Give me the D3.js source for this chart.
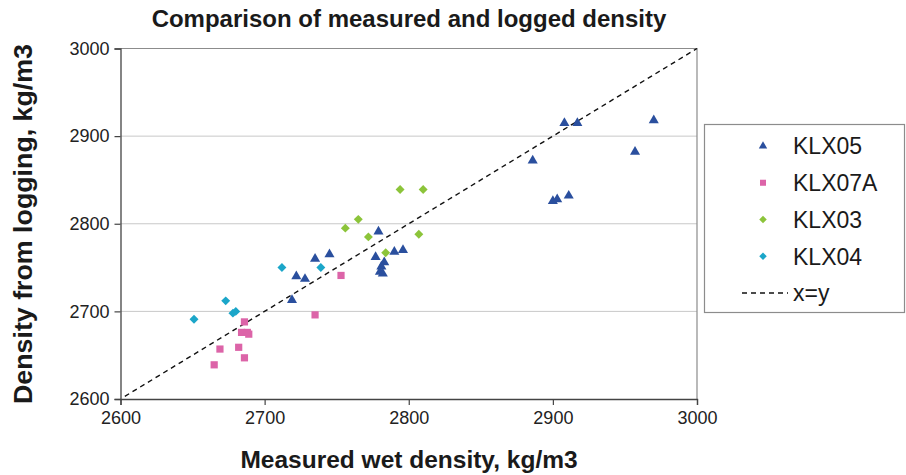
<!DOCTYPE html>
<html>
<head>
<meta charset="utf-8">
<script src="https://cdn.jsdelivr.net/npm/d3@7"></script>
<style>
  body { margin: 0; background: #fff; }
  svg { display: block; font-family: "Liberation Sans", Arial, sans-serif; }
</style>
</head>
<body>
<svg id="chart" width="906" height="475"></svg>
<script>
// measured wet density (x) vs density from logging (y), kg/m3
const klx05X = [2719, 2722, 2728, 2735, 2745, 2779, 2777, 2783, 2781, 2780, 2782, 2790, 2796, 2886, 2900, 2903, 2911, 2908, 2917, 2957, 2970];
const klx05Y = [2713, 2740, 2737, 2760, 2765, 2791, 2762, 2756, 2751, 2745, 2743, 2768, 2770, 2872, 2826, 2828, 2832, 2915, 2915, 2882, 2918];
const klx07aX = [2753, 2735, 2686, 2684, 2688, 2689, 2669, 2682, 2686, 2665];
const klx07aY = [2741, 2696, 2688, 2676, 2676, 2674, 2657, 2659, 2647, 2639];
const klx03X = [2794, 2810, 2765, 2756, 2772, 2807, 2784];
const klx03Y = [2839, 2839, 2805, 2795, 2785, 2788, 2767];
const klx04X = [2651, 2673, 2678, 2680, 2712, 2739];
const klx04Y = [2691, 2712, 2698, 2700, 2750, 2750];

const xTicks = [2600, 2700, 2800, 2900, 3000];
const yTicks = [2600, 2700, 2800, 2900, 3000];
const seriesNames = ["KLX05", "KLX07A", "KLX03", "KLX04"];

const svg = d3.select("#chart");
const plot = {left: 120.5, right: 697, top: 48.5, bottom: 399};

const x = d3.scaleLinear().domain([2600, 3000]).range([plot.left, plot.right]);
const y = d3.scaleLinear().domain([2600, 3000]).range([plot.bottom, plot.top]);

// diamonds are squares turned 45 degrees
const series = [
    {name: seriesNames[0], xs: klx05X, ys: klx05Y, color: "#2a4f9e", shape: d3.symbolTriangle, size: 44, rot: 0},
    {name: seriesNames[1], xs: klx07aX, ys: klx07aY, color: "#dc64a8", shape: d3.symbolSquare, size: 52, rot: 0},
    {name: seriesNames[2], xs: klx03X, ys: klx03Y, color: "#8cc43a", shape: d3.symbolSquare, size: 40, rot: 45},
    {name: seriesNames[3], xs: klx04X, ys: klx04Y, color: "#1ba6c9", shape: d3.symbolSquare, size: 40, rot: 45}
];

// gridlines
svg.append("g")
    .selectAll("line")
    .data(yTicks.slice(1, -1))
    .join("line")
    .attr("x1", plot.left).attr("x2", plot.right)
    .attr("y1", d => y(d)).attr("y2", d => y(d))
    .attr("stroke", "#c8c8c8").attr("stroke-width", 1);

// plot frame (top/right)
svg.append("path")
    .attr("d", `M${plot.left},${plot.top}H${plot.right}V${plot.bottom}`)
    .attr("fill", "none").attr("stroke", "#8c8c8c").attr("stroke-width", 1.2);

// axes
const xAxis = svg.append("g")
    .attr("transform", `translate(0,${plot.bottom})`)
    .call(d3.axisBottom(x).tickValues(xTicks).tickFormat(d3.format("d")).tickSizeOuter(0).tickSize(6).tickPadding(6));
const yAxis = svg.append("g")
    .attr("transform", `translate(${plot.left},0)`)
    .call(d3.axisLeft(y).tickValues(yTicks).tickFormat(d3.format("d")).tickSizeOuter(0).tickSize(6).tickPadding(5));

[xAxis, yAxis].forEach(a => {
    a.select(".domain").attr("stroke", "#444").attr("stroke-width", 1.3);
    a.selectAll(".tick line").attr("stroke", "#444").attr("stroke-width", 1.2);
    a.selectAll(".tick text")
        .attr("fill", "#222")
        .attr("font-size", 18)
        .attr("font-family", "'Liberation Sans', Arial, sans-serif");
});

// x=y line
svg.append("line")
    .attr("x1", x(2603)).attr("y1", y(2603))
    .attr("x2", x(3000)).attr("y2", y(3000))
    .attr("stroke", "#111").attr("stroke-width", 1.4)
    .attr("stroke-dasharray", "5,4");

// points
series.forEach(s => {
    svg.append("g")
        .selectAll("path")
        .data(s.xs.map((v, i) => [v, s.ys[i]]))
        .join("path")
        .attr("transform", d => `translate(${x(d[0])},${y(d[1])}) rotate(${s.rot})`)
        .attr("d", d3.symbol().type(s.shape).size(s.size))
        .attr("fill", s.color);
});

// title and axis labels
svg.append("text")
    .attr("x", 409).attr("y", 27)
    .attr("text-anchor", "middle")
    .attr("font-size", 24).attr("font-weight", "bold").attr("fill", "#1a1a1a")
    .text("Comparison of measured and logged density");

svg.append("text")
    .attr("x", 409).attr("y", 468)
    .attr("text-anchor", "middle")
    .attr("font-size", 24.5).attr("font-weight", "bold").attr("fill", "#1a1a1a")
    .text("Measured wet density, kg/m3");

svg.append("text")
    .attr("transform", "translate(32,224) rotate(-90)")
    .attr("text-anchor", "middle")
    .attr("font-size", 25).attr("font-weight", "bold").attr("fill", "#1a1a1a")
    .attr("textLength", 360).attr("lengthAdjust", "spacingAndGlyphs")
    .text("Density from logging, kg/m3");

// legend
const legend = svg.append("g");
legend.append("rect")
    .attr("x", 704.5).attr("y", 124.5).attr("width", 200).attr("height", 188)
    .attr("fill", "#fff").attr("stroke", "#8c8c8c").attr("stroke-width", 1.2);

const rowY = d3.scalePoint().domain([...seriesNames, "x=y"]).range([146, 293]);

series.forEach(s => {
    legend.append("path")
        .attr("transform", `translate(763,${rowY(s.name)}) rotate(${s.rot})`)
        .attr("d", d3.symbol().type(s.shape).size(s.size * 0.7))
        .attr("fill", s.color);
    legend.append("text")
        .attr("x", 793).attr("y", rowY(s.name)).attr("dy", "0.36em")
        .attr("font-size", 23).attr("fill", "#1a1a1a")
        .text(s.name);
});
legend.append("line")
    .attr("x1", 742).attr("x2", 788)
    .attr("y1", rowY("x=y")).attr("y2", rowY("x=y"))
    .attr("stroke", "#111").attr("stroke-width", 1.4).attr("stroke-dasharray", "5,4");
legend.append("text")
    .attr("x", 793).attr("y", rowY("x=y")).attr("dy", "0.36em")
    .attr("font-size", 23).attr("fill", "#1a1a1a")
    .text("x=y");
</script>
</body>
</html>
